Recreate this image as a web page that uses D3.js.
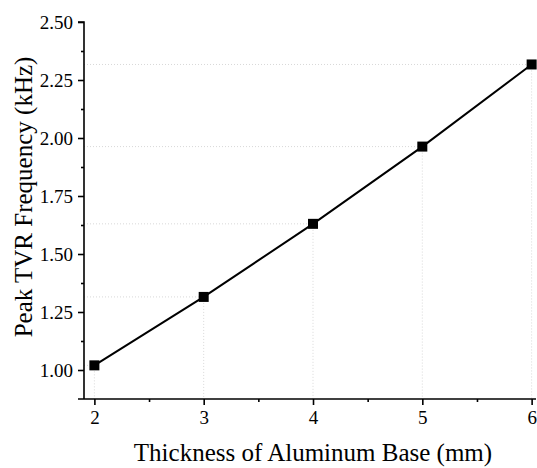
<!DOCTYPE html>
<html><head><meta charset="utf-8">
<script src="https://cdn.jsdelivr.net/npm/d3@7"></script>
<style>body{margin:0;background:#fff}svg{display:block}</style>
</head><body>
<svg id="c" width="537" height="468"></svg>
<script>
const thickness = [2, 3, 4, 5, 6];
const peakFreq = [1.02, 1.315, 1.63, 1.963, 2.317];
const yTicks = [1.00, 1.25, 1.50, 1.75, 2.00, 2.25, 2.50];
const xTicks = [2, 3, 4, 5, 6];
const xLabel = "Thickness of Aluminum Base (mm)";
const yLabel = "Peak TVR Frequency (kHz)";

const svg = d3.select("#c");
const L = 84, R = 536, T = 22, B = 399;
const x = d3.scaleLinear().domain([1.905, 6.04]).range([L, R]);
const y = d3.scaleLinear().domain([0.875, 2.5]).range([B, T]);
const font = "'Liberation Serif','Times New Roman',serif";

// drop lines
const g = svg.append("g");
thickness.forEach((t, i) => {
  g.append("line").attr("x1", L).attr("x2", x(t)).attr("y1", y(peakFreq[i])).attr("y2", y(peakFreq[i]))
    .attr("stroke", "#d8d8d8").attr("stroke-width", 1).attr("stroke-dasharray", "1,2");
  g.append("line").attr("x1", x(t)).attr("x2", x(t)).attr("y1", y(peakFreq[i])).attr("y2", B)
    .attr("stroke", "#d8d8d8").attr("stroke-width", 1).attr("stroke-dasharray", "1,2");
});
g.append("line").attr("x1", x(6)).attr("x2", 537).attr("y1", y(peakFreq[4])).attr("y2", y(peakFreq[4]))
  .attr("stroke", "#d8d8d8").attr("stroke-width", 1).attr("stroke-dasharray", "1,2");

// axes
const xAxis = d3.axisBottom(x).tickValues(xTicks).tickFormat(d3.format("d")).tickSize(6).tickPadding(6);
const xMinor = d3.axisBottom(x).tickValues([2.5, 3.5, 4.5, 5.5]).tickFormat("").tickSize(3);
const yAxis = d3.axisLeft(y).tickValues(yTicks).tickFormat(d3.format(".2f")).tickSize(6).tickPadding(5);
const yMinor = d3.axisLeft(y).tickValues([1.125, 1.375, 1.625, 1.875, 2.125, 2.375]).tickFormat("").tickSize(3);

function style(sel) {
  sel.attr("font-size", null).attr("font-family", null);
  sel.selectAll("path").attr("stroke", "#000").attr("stroke-width", 1.6);
  sel.selectAll("line").attr("stroke", "#000").attr("stroke-width", 1.6);
  sel.selectAll("text").style("font-family", font).style("font-size", "19px").attr("fill", "#000");
}
const gx = svg.append("g").attr("transform", `translate(0,${B})`).call(xAxis); style(gx);
const gxm = svg.append("g").attr("transform", `translate(0,${B})`).call(xMinor); style(gxm);
gxm.select("path").remove();
const gy = svg.append("g").attr("transform", `translate(${L},0)`).call(yAxis); style(gy);
const gym = svg.append("g").attr("transform", `translate(${L},0)`).call(yMinor); style(gym);
gym.select("path").remove();
gx.select("path").attr("d", `M${L-6},0H${R}`);
gy.select("path").attr("d", `M-6,${T}H0V${B}`);

// line
const pts = thickness.map((t, i) => [t, peakFreq[i]]);
svg.append("path").datum(pts)
  .attr("d", d3.line().x(d => x(d[0])).y(d => y(d[1])))
  .attr("fill", "none").attr("stroke", "#000").attr("stroke-width", 2);
svg.selectAll("rect.m").data(pts).enter().append("rect").attr("class", "m")
  .attr("x", d => x(d[0]) - 5).attr("y", d => y(d[1]) - 5)
  .attr("width", 10).attr("height", 10).attr("fill", "#000");

// titles
svg.append("text").attr("x", 313).attr("y", 461).attr("text-anchor", "middle")
  .style("font-family", font).style("font-size", "25px").text(xLabel);
svg.append("text").attr("transform", `translate(32,197) rotate(-90)`).attr("text-anchor", "middle")
  .style("font-family", font).style("font-size", "25px").text(yLabel);
</script>
</body></html>
